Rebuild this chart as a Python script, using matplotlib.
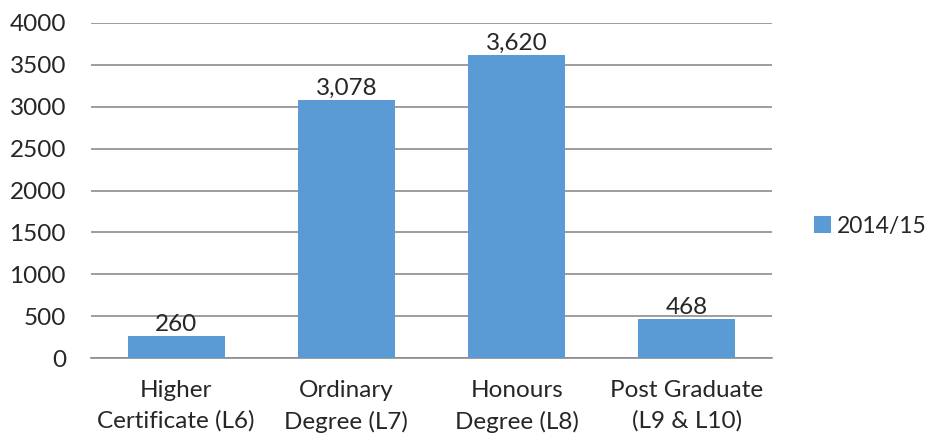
import numpy as np
import matplotlib
matplotlib.use('Agg')
from matplotlib import pyplot as plt
from matplotlib.patches import Patch

# dados
categories = ['Higher\nCertificate (L6)', 'Ordinary\nDegree (L7)',
              'Honours\nDegree (L8)', 'Post Graduate\n(L9 & L10)']
values = [260, 3078, 3620, 468]
value_labels = ['260', '3,078', '3,620', '468']
series_name = '2014/15'
yticks = [0, 500, 1000, 1500, 2000, 2500, 3000, 3500, 4000]

plt.rcParams['font.family'] = ['Lato', 'DejaVu Sans']
blue = '#5B9BD5'
txt = '#262626'
fs = 17.5

fig = plt.figure(figsize=(9.29, 4.4), dpi=100)
ax = fig.add_axes([0.098, 0.186, 0.733, 0.762])

x = np.arange(len(categories))
ax.bar(x, values, width=0.57, color=blue, zorder=3)

for xi, v, lab in zip(x, values, value_labels):
    ax.text(xi, v + 15, lab, ha='center', va='bottom', fontsize=fs, color=txt, zorder=4)

ax.set_xlim(-0.5, len(categories) - 0.5)
ax.set_ylim(0, 4000)
ax.set_yticks(yticks)
ax.set_yticklabels([str(t) for t in yticks], fontsize=fs, color=txt)
ax.set_xticks(x)
ax.set_xticklabels(categories, fontsize=fs, color=txt, linespacing=1.5)
ax.tick_params(axis='both', length=0)
ax.tick_params(axis='y', pad=18)
ax.tick_params(axis='x', pad=16)

ax.grid(axis='y', color='#8C8C8C', linewidth=1.2, zorder=0)
for s in ['top', 'right', 'left']:
    ax.spines[s].set_visible(False)
ax.spines['bottom'].set_color('#8C8C8C')
ax.spines['bottom'].set_linewidth(1.2)

handles = [Patch(facecolor=blue, label=series_name)]
fig.legend(handles=handles, loc='center left', bbox_to_anchor=(0.876, 0.486),
           frameon=False, fontsize=16.5, handlelength=0.75, handleheight=0.75,
           handletextpad=0.25, labelcolor=txt, borderpad=0, borderaxespad=0)

fig.savefig('out.png', dpi=100)
